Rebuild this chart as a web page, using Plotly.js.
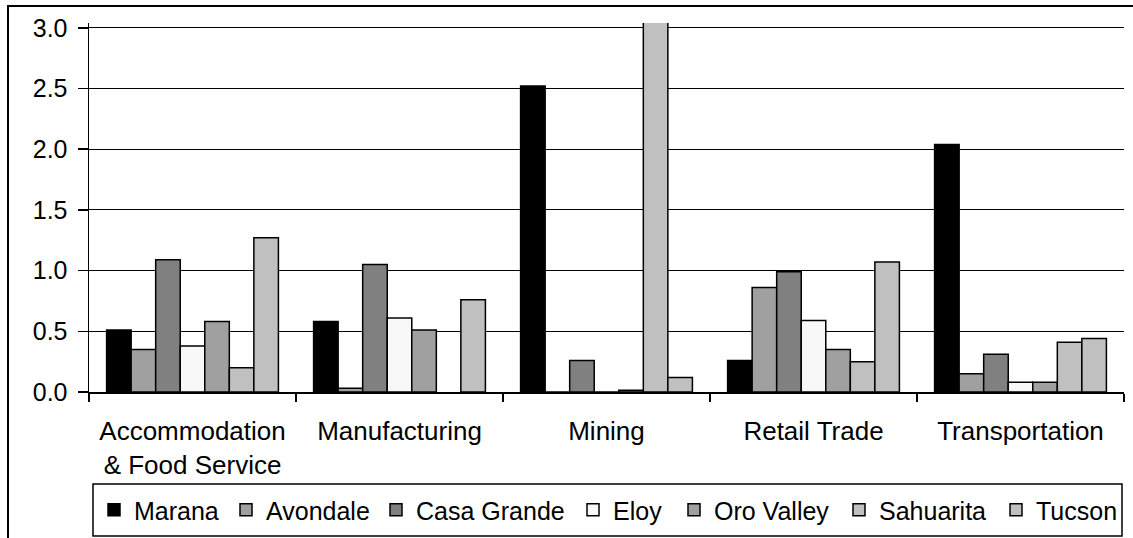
<!DOCTYPE html>
<html>
<head>
<meta charset="utf-8">
<script src="https://cdn.plot.ly/plotly-3.0.1.min.js"></script>
<style>html,body{margin:0;padding:0;background:#fff;overflow:hidden;}#chart{width:1133px;height:538px;}</style>
</head>
<body>
<div id="chart"></div>
<script>
const categories = ["Accommodation<br>& Food Service", "Manufacturing", "Mining", "Retail Trade", "Transportation"];
const seriesNames = ["Marana", "Avondale", "Casa Grande", "Eloy", "Oro Valley", "Sahuarita", "Tucson"];
const marana     = [0.51, 0.58, 2.52, 0.26, 2.04];
const avondale   = [0.35, 0.03, 0.00, 0.86, 0.15];
const casaGrande = [1.09, 1.05, 0.26, 0.99, 0.31];
const eloy       = [0.38, 0.61, 0.00, 0.59, 0.08];
const oroValley  = [0.58, 0.51, 0.015, 0.35, 0.08];
const sahuarita  = [0.20, null, 3.20, 0.25, 0.41];
const tucson     = [1.27, 0.76, 0.12, 1.07, 0.44];
const yTickVals  = [0, 0.5, 1.0, 1.5, 2.0, 2.5, 3.0];

const seriesValues = [marana, avondale, casaGrande, eloy, oroValley, sahuarita, tucson];
const seriesColors = ["#000000", "#a0a0a0", "#808080", "#f8f8f8", "#a0a0a0", "#c0c0c0", "#c0c0c0"];

const FONT = "Liberation Sans, Arial, sans-serif";

const W = 1133, H = 538;
// plot area in pixels: x 89..1124, y 23..392
const L = 89, R = 1124, T = 23, B = 392;
const px = v => (v - L) / (R - L);
const py = v => (B - v) / (B - T);

// legend entry left edges (pixels) – layout only
const legendLeft = [108, 240, 390, 587, 688, 853, 1010];
const legendIds = seriesNames.map((_, i) => i === 0 ? "legend" : "legend" + (i + 1));

const traces = seriesNames.map((name, i) => ({
  type: "bar",
  name: name,
  x: categories,
  y: seriesValues[i],
  legend: legendIds[i],
  marker: {color: seriesColors[i], line: {color: "#000", width: 1.5}},
  hoverinfo: "x+y+name"
}));

const layout = {
  width: W, height: H,
  margin: {l: L, r: W - R, t: T, b: H - B, pad: 0},
  paper_bgcolor: "#fff", plot_bgcolor: "#fff",
  font: {family: FONT, size: 25, color: "#000"},
  barmode: "group", bargap: 0.17, bargroupgap: 0,
  showlegend: true,
  xaxis: {
    type: "category", showgrid: false, showline: true, linecolor: "#000", linewidth: 2,
    ticks: "outside", tickson: "boundaries", ticklen: 8, tickwidth: 2, tickcolor: "#000",
    ticklabelstandoff: 15, automargin: false,
    tickfont: {family: FONT, size: 26, color: "#000"}, fixedrange: true, zeroline: false
  },
  yaxis: {
    range: [0, 3.04], tickvals: yTickVals, tickformat: ".1f",
    showgrid: true, gridcolor: "#000", gridwidth: 1, zeroline: false,
    showline: true, linecolor: "#000", linewidth: 1.5,
    ticks: "outside", ticklen: 10, tickwidth: 1.5, tickcolor: "#000",
    ticklabelstandoff: 5, automargin: false,
    tickfont: {family: FONT, size: 25, color: "#000"}, fixedrange: true
  },
  shapes: [
    {type: "rect", xref: "paper", yref: "paper", x0: px(8), x1: px(1140), y0: py(545), y1: py(6),
     line: {color: "#000", width: 2}, fillcolor: "rgba(0,0,0,0)"},
    {type: "rect", xref: "paper", yref: "paper", x0: px(93), x1: px(1122), y0: py(536), y1: py(484),
     line: {color: "#000", width: 1.5}, fillcolor: "rgba(0,0,0,0)"}
  ]
};

legendIds.forEach((id, i) => {
  layout[id] = {
    orientation: "h",
    xref: "container", x: (legendLeft[i] - 14) / W, xanchor: "left",
    yref: "container", y: 1 - 510 / H, yanchor: "middle",
    font: {family: FONT, size: 25, color: "#000"}, bgcolor: "rgba(0,0,0,0)", borderwidth: 0
  };
});

Plotly.newPlot("chart", traces, layout, {displayModeBar: false, staticPlot: true});
</script>
</body>
</html>
